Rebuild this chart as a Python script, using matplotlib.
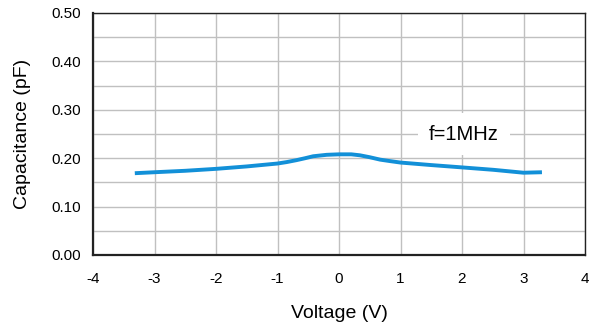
import matplotlib
matplotlib.use('Agg')
import matplotlib.pyplot as plt
import numpy as np

plt.rcParams['font.family'] = ['Liberation Sans', 'DejaVu Sans']

# curve, voltage (V) vs capacitance (pF)
voltage = [-3.32, -3.0, -2.5, -2.0, -1.5, -1.0, -0.85, -0.69, -0.55, -0.42, -0.2, 0.0,
           0.2, 0.34, 0.5, 0.67, 0.83, 1.0, 1.48, 2.0, 2.51, 3.0, 3.3]
capacitance = [0.169, 0.171, 0.174, 0.178, 0.183, 0.189, 0.192, 0.196, 0.200, 0.204, 0.207, 0.208,
               0.208, 0.206, 0.202, 0.197, 0.194, 0.191, 0.186, 0.181, 0.176, 0.170, 0.171]

xticks = [-4, -3, -2, -1, 0, 1, 2, 3, 4]
yticks = [0.0, 0.1, 0.2, 0.3, 0.4, 0.5]

fig = plt.figure(figsize=(5.92, 3.26), dpi=100)
ax = fig.add_axes([93 / 592, 1 - 255 / 326, 492 / 592, 242 / 326])

ax.plot(voltage, capacitance, color='#1290d8', lw=2.8, solid_capstyle='butt',
        solid_joinstyle='round', zorder=3)

ax.set_xlim(-4, 4)
ax.set_ylim(0, 0.5)
ax.set_xticks(xticks)
ax.set_xticklabels([str(t) for t in xticks])
ax.set_yticks(yticks)
ax.set_yticklabels(['%.2f' % t for t in yticks])
ax.set_yticks(np.arange(0.05, 0.5, 0.1), minor=True)
ax.grid(True, which='both', color='#c0c0c0', lw=1.0)
ax.set_axisbelow(True)
ax.tick_params(which='both', length=0, labelsize=11)
ax.tick_params(axis='x', pad=12)
ax.tick_params(axis='y', pad=9)

for s in ax.spines.values():
    s.set_color('#222222')
    s.set_linewidth(1.0)
ax.spines['left'].set_linewidth(1.6)
ax.spines['bottom'].set_linewidth(1.6)

ax.set_xlabel('Voltage (V)', fontsize=14, labelpad=14)
ax.set_ylabel('Capacitance (pF)', fontsize=14, labelpad=14)

ax.text(2.03, 0.25, 'f=1MHz', fontsize=14.5, ha='center', va='center',
        bbox=dict(facecolor='white', edgecolor='none', pad=8), zorder=4)

fig.savefig('out.png', dpi=100)
